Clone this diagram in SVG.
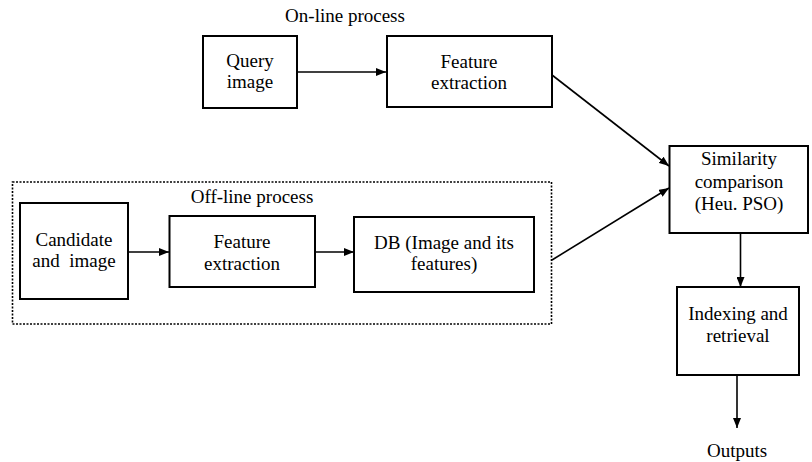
<svg xmlns="http://www.w3.org/2000/svg" width="812" height="462" viewBox="0 0 812 462">
<style>
.box{fill:#fff;stroke:#000;stroke-width:2}
.t{font-size:19px;fill:#000;text-anchor:middle}
.c{stroke:#000;stroke-width:1.6;fill:none;marker-end:url(#ah)}
</style>
<defs>
<marker id="ah" viewBox="0 0 10 8" refX="10" refY="4" markerWidth="10" markerHeight="8" markerUnits="userSpaceOnUse" orient="auto">
<path d="M0,0 L10,4 L0,8 Z" fill="#000"/>
</marker>
</defs>
<rect fill="#fff" width="812" height="462"/>
<g font-family="'Liberation Serif', 'Times New Roman', 'DejaVu Serif', serif">
<g id="offline-group">
<rect x="12.5" y="182" width="539" height="142" fill="none" stroke="#000" stroke-width="1.6" stroke-dasharray="2 1.5"/>
<text class="t" x="252" y="203">Off-line process</text>
</g>
<text class="t" x="345" y="22">On-line process</text>
<g id="connectors">
<line class="c" x1="297" y1="72" x2="386" y2="72"/>
<line class="c" x1="128" y1="252" x2="169" y2="252"/>
<line class="c" x1="315" y1="252" x2="354" y2="252"/>
<line class="c" x1="552" y1="75" x2="669" y2="166"/>
<line class="c" x1="552" y1="260" x2="669" y2="188"/>
<line class="c" x1="740.5" y1="233" x2="740.5" y2="287"/>
<line class="c" x1="737" y1="375" x2="737" y2="428"/>
</g>
<g id="query">
<rect class="box" x="203" y="36" width="94" height="72"/>
<text class="t" x="250" y="67">Query</text>
<text class="t" x="250" y="88">image</text>
</g>
<g id="feature-online">
<rect class="box" x="387" y="36" width="165" height="71"/>
<text class="t" x="469" y="68">Feature</text>
<text class="t" x="469" y="89">extraction</text>
</g>
<g id="candidate">
<rect class="box" x="20" y="203" width="108" height="96"/>
<text class="t" x="74" y="246" xml:space="preserve">Candidate</text>
<text class="t" x="74" y="267" xml:space="preserve">and  image</text>
</g>
<g id="feature-offline">
<rect class="box" x="169.5" y="216" width="145.5" height="71"/>
<text class="t" x="242" y="248">Feature</text>
<text class="t" x="242" y="270">extraction</text>
</g>
<g id="db">
<rect class="box" x="354" y="217" width="180" height="75"/>
<text class="t" x="444" y="249">DB (Image and its</text>
<text class="t" x="444" y="270">features)</text>
</g>
<g id="similarity">
<rect class="box" x="669.5" y="146" width="138.5" height="87"/>
<text class="t" x="739" y="165">Similarity</text>
<text class="t" x="739" y="188">comparison</text>
<text class="t" x="739" y="210">(Heu. PSO)</text>
</g>
<g id="indexing">
<rect class="box" x="677" y="287" width="122" height="88"/>
<text class="t" x="738" y="320">Indexing and</text>
<text class="t" x="738" y="342">retrieval</text>
</g>
<text class="t" x="737" y="457">Outputs</text>
</g>
</svg>
